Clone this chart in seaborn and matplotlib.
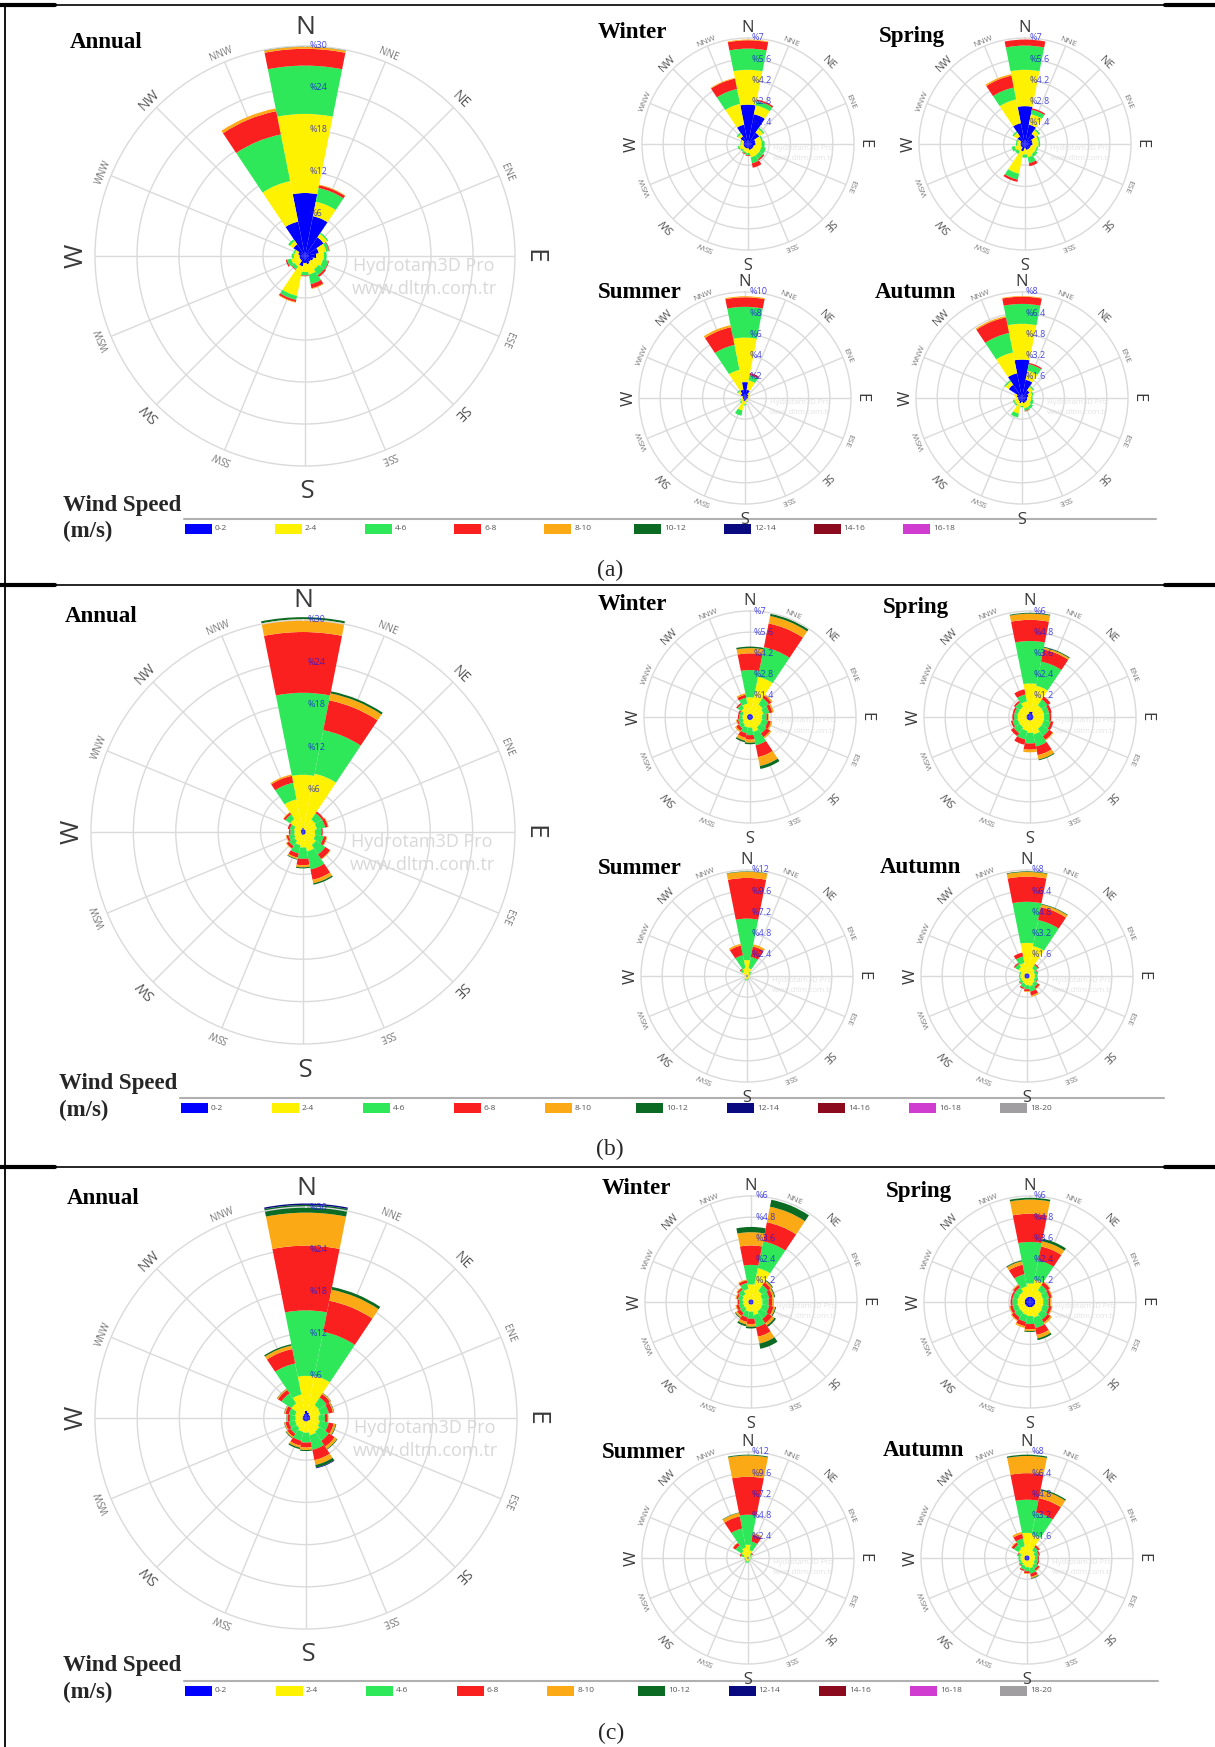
import numpy as np
import matplotlib
matplotlib.use("Agg")
import matplotlib.pyplot as plt
import seaborn as sns
from matplotlib.transforms import ScaledTranslation
from matplotlib.patches import Rectangle

# ---------------- data ----------------
DIRS = ['N', 'NNE', 'NE', 'ENE', 'E', 'ESE', 'SE', 'SSE',
        'S', 'SSW', 'SW', 'WSW', 'W', 'WNW', 'NW', 'NNW']
SPEED_BINS = ['0-2', '2-4', '4-6', '6-8', '8-10', '10-12', '12-14', '14-16', '16-18', '18-20']
SPEED_HEX = ['#0000FF', '#FFF200', '#2EE85A', '#FA2020', '#FBA914',
             '#0B6B23', '#0A0A80', '#8B0A1E', '#D03CD0', '#A09EA0']

# each row: one direction (N, NNE, ... NNW); columns: % share per speed bin
annual_a = [[9.0, 11.3, 6.9, 2.4, 0.3, 0.1], [5.8, 2.1, 2.0, 0.4, 0.1], [3.2, 0.6, 0.2],
            [2.0, 1.1, 0.4, 0.1], [1.6, 1.1, 0.4], [1.2, 1.4, 0.8, 0.1], [1.0, 1.3, 1.0, 0.3],
            [1.2, 1.5, 1.4, 0.6, 0.1], [1.0, 1.3, 0.5, 0.1], [1.5, 4.3, 0.6, 0.3, 0.1],
            [0.8, 1.0, 0.5, 0.1], [0.8, 1.2, 0.6, 0.2], [0.8, 0.8, 0.3], [1.0, 0.5, 0.2],
            [2.0, 0.6, 0.3], [5.0, 5.9, 6.8, 3.4, 0.4]]
winter_a = [[2.6, 2.3, 1.4, 0.55, 0.05], [2.0, 0.6, 0.3, 0.1], [0.9, 0.3, 0.1], [0.5, 0.4, 0.1],
            [0.5, 0.4, 0.2], [0.4, 0.5, 0.3], [0.4, 0.5, 0.3, 0.1], [0.4, 0.5, 0.4, 0.3],
            [0.3, 0.3, 0.15, 0.05], [0.3, 0.25, 0.1, 0.05], [0.3, 0.2, 0.1], [0.3, 0.3, 0.1],
            [0.3, 0.15, 0.05], [0.3, 0.15, 0.05], [0.6, 0.2, 0.1], [1.3, 1.4, 1.0, 0.7, 0.05]]
spring_a = [[2.5, 2.4, 1.6, 0.4], [1.3, 0.7, 0.3, 0.1], [0.8, 0.3, 0.1], [0.5, 0.4, 0.1],
            [0.5, 0.4, 0.1], [0.4, 0.4, 0.1], [0.4, 0.4, 0.2], [0.4, 0.5, 0.4, 0.2],
            [0.3, 0.4, 0.2], [0.5, 1.5, 0.4, 0.15], [0.3, 0.3, 0.2], [0.3, 0.4, 0.2],
            [0.3, 0.2, 0.1], [0.3, 0.2, 0.1], [0.6, 0.3, 0.1], [1.4, 1.6, 0.8, 0.8, 0.1]]
summer_a = [[1.5, 4.2, 2.9, 0.9, 0.1], [0.8, 0.9, 0.5, 0.2], [0.4, 0.2], [0.3, 0.1],
            [0.3, 0.1], [0.2, 0.1], [0.2, 0.1], [0.2, 0.15, 0.05],
            [0.3, 0.3, 0.1], [0.3, 0.9, 0.5], [0.2, 0.3, 0.1], [0.2, 0.2, 0.05],
            [0.2, 0.1], [0.2, 0.1], [0.5, 0.3, 0.1], [0.8, 1.9, 2.4, 1.7, 0.2]]
autumn_a = [[2.9, 2.7, 1.5, 0.55, 0.05], [1.4, 0.7, 0.5, 0.1], [0.7, 0.3, 0.1], [0.5, 0.3, 0.1],
            [0.4, 0.3, 0.1], [0.4, 0.3, 0.2], [0.4, 0.4, 0.2], [0.4, 0.4, 0.2, 0.05],
            [0.3, 0.3, 0.1], [0.4, 0.8, 0.3], [0.3, 0.3, 0.1], [0.3, 0.3, 0.1],
            [0.3, 0.2], [0.4, 0.2], [1.2, 0.3, 0.1], [1.9, 1.6, 1.5, 1.2, 0.1]]

annual_b = [[0.6, 7.5, 11.6, 8.6, 1.8, 0.3], [0.4, 8.0, 6.3, 4.3, 1.0, 0.3], [0.4, 1.7, 1.1, 0.3],
            [0.4, 1.6, 1.2, 0.4, 0.1], [0.4, 1.3, 0.9, 0.2], [0.4, 1.4, 1.2, 0.4, 0.1],
            [0.4, 1.8, 1.6, 0.8, 0.1], [0.4, 2.4, 2.6, 1.5, 0.5, 0.2], [0.4, 1.8, 1.6, 0.9, 0.3, 0.15],
            [0.4, 1.5, 1.2, 0.6, 0.2, 0.1], [0.3, 1.2, 0.9, 0.4, 0.1], [0.3, 1.0, 0.8, 0.3, 0.1],
            [0.3, 0.9, 0.6, 0.2], [0.3, 1.0, 0.6, 0.3], [0.4, 1.8, 0.8, 0.3, 0.1],
            [0.4, 4.3, 2.4, 1.0, 0.2]]
winter_b = [[0.2, 1.1, 1.8, 1.1, 0.35, 0.1], [0.2, 2.5, 2.0, 1.6, 0.5, 0.15], [0.2, 0.8, 0.5, 0.2, 0.1],
            [0.2, 0.7, 0.4, 0.2, 0.1], [0.2, 0.6, 0.3, 0.1, 0.05], [0.2, 0.6, 0.4, 0.2, 0.1],
            [0.2, 0.6, 0.5, 0.3, 0.1], [0.2, 0.8, 0.9, 0.8, 0.6, 0.2], [0.2, 0.5, 0.5, 0.3, 0.2, 0.1],
            [0.2, 0.5, 0.4, 0.3, 0.2, 0.1], [0.2, 0.4, 0.3, 0.2, 0.1], [0.2, 0.3, 0.3, 0.1, 0.05],
            [0.2, 0.3, 0.2, 0.1], [0.2, 0.3, 0.2, 0.1], [0.2, 0.5, 0.3, 0.1], [0.2, 0.7, 0.4, 0.2, 0.1]]
spring_b = [[0.3, 1.6, 2.4, 1.2, 0.35, 0.05], [0.3, 1.5, 1.4, 0.7, 0.1, 0.05], [0.2, 0.6, 0.4, 0.2],
            [0.2, 0.6, 0.3, 0.15], [0.2, 0.6, 0.3, 0.1], [0.2, 0.6, 0.4, 0.15],
            [0.2, 0.6, 0.5, 0.25, 0.05], [0.2, 0.8, 0.7, 0.5, 0.25, 0.05], [0.2, 0.7, 0.6, 0.35, 0.15],
            [0.2, 0.6, 0.5, 0.3], [0.2, 0.5, 0.4, 0.2], [0.2, 0.5, 0.3, 0.1],
            [0.2, 0.5, 0.2, 0.1], [0.2, 0.5, 0.2, 0.1], [0.2, 0.5, 0.3, 0.1], [0.2, 0.7, 0.4, 0.3]]
summer_b = [[0.1, 1.7, 4.7, 4.6, 0.7, 0.05], [0.1, 0.8, 1.3, 1.2, 0.25], [0.1, 0.3, 0.2], [0.1, 0.2, 0.1],
            [0.1, 0.2], [0.1, 0.15], [0.1, 0.15], [0.1, 0.2, 0.1],
            [0.1, 0.3, 0.1], [0.1, 0.3, 0.1], [0.1, 0.2], [0.1, 0.15],
            [0.1, 0.15], [0.1, 0.2], [0.1, 0.5, 0.3, 0.1], [0.1, 0.8, 1.5, 1.1, 0.2]]
autumn_b = [[0.2, 2.3, 3.1, 1.9, 0.35, 0.05], [0.2, 2.1, 2.0, 1.0, 0.2, 0.05], [0.2, 0.5, 0.3, 0.1],
            [0.2, 0.4, 0.2, 0.05], [0.2, 0.4, 0.2], [0.2, 0.4, 0.2, 0.05],
            [0.2, 0.5, 0.3, 0.15, 0.05], [0.2, 0.6, 0.4, 0.3, 0.1], [0.2, 0.5, 0.3, 0.15, 0.05],
            [0.2, 0.4, 0.3, 0.1], [0.2, 0.3, 0.2, 0.05], [0.2, 0.3, 0.1],
            [0.2, 0.3, 0.1], [0.2, 0.3, 0.1], [0.2, 0.6, 0.3, 0.1], [0.2, 0.8, 0.5, 0.3]]

annual_c = [[1.0, 5.0, 9.3, 9.2, 4.7, 1.1, 0.2], [0.8, 5.3, 6.4, 4.5, 1.6, 0.4],
            [0.6, 1.6, 1.3, 0.6, 0.15, 0.05], [0.6, 1.5, 1.2, 0.6, 0.15, 0.05],
            [0.6, 1.2, 0.9, 0.4, 0.1], [0.6, 1.4, 1.3, 0.7, 0.3, 0.1],
            [0.5, 1.8, 1.6, 1.0, 0.4, 0.1], [0.5, 2.0, 2.1, 1.5, 0.7, 0.4, 0.1],
            [0.5, 1.6, 1.4, 0.7, 0.35, 0.15], [0.5, 1.5, 1.3, 0.7, 0.3, 0.2],
            [0.5, 1.2, 1.0, 0.5, 0.2, 0.1], [0.5, 1.1, 0.9, 0.5, 0.15, 0.05],
            [0.5, 1.0, 0.8, 0.35, 0.1, 0.05], [0.5, 1.1, 0.9, 0.5, 0.15, 0.05],
            [0.5, 2.0, 1.7, 0.6, 0.15, 0.05], [0.6, 2.8, 4.5, 2.1, 0.5, 0.2]]
winter_c = [[0.15, 0.85, 1.1, 1.1, 0.75, 0.3], [0.15, 1.8, 1.55, 1.1, 0.9, 0.4],
            [0.15, 0.6, 0.4, 0.2, 0.1, 0.05], [0.15, 0.5, 0.4, 0.2, 0.1, 0.05],
            [0.15, 0.5, 0.35, 0.2, 0.1], [0.15, 0.5, 0.4, 0.25, 0.1, 0.05],
            [0.15, 0.5, 0.5, 0.3, 0.15, 0.1], [0.15, 0.6, 0.7, 0.55, 0.4, 0.3],
            [0.15, 0.4, 0.4, 0.3, 0.15, 0.1], [0.15, 0.4, 0.35, 0.25, 0.15, 0.1],
            [0.15, 0.3, 0.3, 0.2, 0.1, 0.05], [0.15, 0.3, 0.25, 0.15, 0.05],
            [0.15, 0.3, 0.2, 0.1, 0.05], [0.15, 0.35, 0.25, 0.1, 0.05],
            [0.15, 0.4, 0.3, 0.1, 0.05], [0.15, 0.6, 0.35, 0.15, 0.05]]
spring_c = [[0.3, 0.75, 2.35, 1.6, 0.8, 0.1], [0.3, 1.0, 1.1, 0.8, 0.3, 0.15],
            [0.3, 0.5, 0.35, 0.2, 0.05], [0.3, 0.45, 0.35, 0.15, 0.05],
            [0.3, 0.45, 0.3, 0.1, 0.05], [0.3, 0.45, 0.35, 0.15, 0.05],
            [0.3, 0.5, 0.4, 0.2, 0.1], [0.3, 0.6, 0.6, 0.4, 0.2, 0.1],
            [0.3, 0.5, 0.45, 0.3, 0.1, 0.05], [0.3, 0.45, 0.4, 0.25, 0.1],
            [0.3, 0.4, 0.35, 0.2, 0.05], [0.3, 0.4, 0.3, 0.15, 0.05],
            [0.3, 0.4, 0.3, 0.1], [0.3, 0.4, 0.3, 0.1],
            [0.3, 0.4, 0.3, 0.15, 0.05], [0.3, 0.6, 0.7, 0.55, 0.2, 0.05]]
summer_c = [[0.1, 1.4, 3.4, 4.3, 2.4, 0.1], [0.1, 0.8, 1.0, 0.8, 0.2], [0.1, 0.3, 0.2, 0.1],
            [0.1, 0.2, 0.1], [0.1, 0.2, 0.1], [0.1, 0.15, 0.05], [0.1, 0.15, 0.05],
            [0.1, 0.2, 0.1], [0.1, 0.3, 0.15], [0.1, 0.3, 0.15], [0.1, 0.2, 0.1],
            [0.1, 0.2, 0.1], [0.1, 0.2, 0.1], [0.1, 0.4, 0.3, 0.15],
            [0.1, 0.8, 0.8, 0.35, 0.05], [0.1, 1.1, 2.2, 1.4, 0.4, 0.05]]
autumn_c = [[0.2, 1.7, 2.5, 2.0, 1.3, 0.1], [0.2, 1.6, 1.7, 1.1, 0.6, 0.1],
            [0.2, 0.5, 0.3, 0.15, 0.05], [0.2, 0.4, 0.3, 0.1], [0.2, 0.4, 0.2, 0.1],
            [0.2, 0.4, 0.25, 0.1], [0.2, 0.5, 0.3, 0.15, 0.05], [0.2, 0.6, 0.4, 0.25, 0.1, 0.05],
            [0.2, 0.5, 0.3, 0.15, 0.05], [0.2, 0.4, 0.3, 0.1], [0.2, 0.3, 0.2, 0.05],
            [0.2, 0.3, 0.15], [0.2, 0.3, 0.15], [0.2, 0.3, 0.2, 0.05],
            [0.2, 0.6, 0.4, 0.2, 0.05], [0.2, 0.7, 0.6, 0.35, 0.15]]

rings_annual = [6, 12, 18, 24, 30]
rings_14 = [1.4, 2.8, 4.2, 5.6, 7]
rings_12 = [1.2, 2.4, 3.6, 4.8, 6]
rings_2 = [2, 4, 6, 8, 10]
rings_16 = [1.6, 3.2, 4.8, 6.4, 8]
rings_24 = [2.4, 4.8, 7.2, 9.6, 12]

# ---------------- style ----------------
W, H = 1215, 1747
sns.set_style("white")
palette = sns.color_palette(SPEED_HEX)
plt.rcParams['font.family'] = ['DejaVu Sans']
SERIF = ['Liberation Serif', 'DejaVu Serif']
SANS = ['Open Sans', 'DejaVu Sans']
GRID = '#DADADA'

fig = plt.figure(figsize=(W / 100, H / 100), dpi=100)
bg = fig.add_axes([0, 0, 1, 1])
bg.set_xlim(0, W)
bg.set_ylim(H, 0)
bg.axis('off')

theta = np.deg2rad(np.arange(16) * 22.5)


def add_rose(cx, cy, R, table, rings, big):
    ax = fig.add_axes([(cx - R) / W, 1 - (cy + R) / H, 2 * R / W, 2 * R / H], projection='polar')
    ax.set_theta_zero_location('N')
    ax.set_theta_direction(-1)
    ax.set_facecolor('none')
    rmax = rings[-1]
    nb = max(len(r) for r in table)
    data = np.zeros((16, nb))
    for i, row in enumerate(table):
        data[i, :len(row)] = row
    bottom = np.zeros(16)
    for b in range(nb):
        ax.bar(theta, data[:, b], width=2 * np.pi / 16, bottom=bottom, color=palette[b],
               linewidth=0, clip_on=False, zorder=2)
        bottom += data[:, b]
    ax.set_ylim(0, rmax)
    ax.set_xticks(theta)
    ax.set_xticklabels([])
    ax.set_yticks(rings[:-1])
    ax.set_yticklabels([])
    ax.set_axisbelow(True)
    ax.grid(True, color=GRID, lw=1.0)
    ax.spines['polar'].set_color(GRID)
    ax.spines['polar'].set_linewidth(1.0)
    # direction labels
    for i, d in enumerate(DIRS):
        if len(d) == 1:
            fs, fac, col = (19, 1.09, '#3a3a3a') if big else (12, 1.095, '#3a3a3a')
        elif len(d) == 2:
            fs, fac, col = (10, 1.05, '#555555') if big else (8, 1.075, '#555555')
        else:
            fs, fac, col = (7, 1.04, '#777777') if big else (6, 1.045, '#777777')
        ax.text(theta[i], rmax * fac, d, rotation=-i * 22.5, rotation_mode='anchor',
                ha='center', va='center', fontsize=fs, color=col, family=SANS, clip_on=False)
    # radial labels
    off = ax.transData + ScaledTranslation(4 / 100, 0, fig.dpi_scale_trans)
    for v in rings:
        ax.text(0, v, '%' + f'{v:g}', transform=off, ha='left', va='center',
                fontsize=6.5, color='#1a1ae0', alpha=0.8, family=SANS, zorder=5, clip_on=False)
    # watermark
    if big:
        bg.text(cx + 119, cy + 10, 'Hydrotam3D Pro', ha='center', va='center', fontsize=13,
                color='#D8D8D8', family=SANS)
        bg.text(cx + 119, cy + 33, 'www.dltm.com.tr', ha='center', va='center', fontsize=13,
                color='#D8D8D8', family=SANS)
    else:
        bg.text(cx + 55, cy + 4, 'Hydrotam3D Pro', ha='center', va='center', fontsize=5.5,
                color='#E4E4E4', family=SANS)
        bg.text(cx + 55, cy + 14, 'www.dltm.com.tr', ha='center', va='center', fontsize=5.5,
                color='#E4E4E4', family=SANS)
    return ax


def title(x, y, s, fs=16.5):
    bg.text(x, y, s, ha='left', va='center', fontsize=fs, fontweight='bold', family=SERIF, color='black')


def legend(x0, step, y_line, x_line_end, n, y_title):
    bg.plot([x0 - 1, x_line_end], [y_line, y_line], color='#B0B0B0', lw=1.5)
    for k in range(n):
        x = x0 + k * step
        bg.add_patch(Rectangle((x, y_line + 5), 27, 10, facecolor=palette[k], edgecolor='none'))
        bg.text(x + 30, y_line + 10, SPEED_BINS[k], ha='left', va='center', fontsize=6,
                color='#555555', family=SANS)
    bg.text(x0 - 122, y_title, 'Wind Speed', ha='left', va='center', fontsize=16.5,
            fontweight='bold', family=SERIF)
    bg.text(x0 - 122, y_title + 26, '(m/s)', ha='left', va='center', fontsize=16.5,
            fontweight='bold', family=SERIF)


# ---------------- panel (a) ----------------
add_rose(305, 256, 210, annual_a, rings_annual, True)
add_rose(748, 144, 106, winter_a, rings_14, False)
add_rose(1025, 144, 106, spring_a, rings_14, False)
add_rose(745, 398, 106, summer_a, rings_2, False)
add_rose(1022, 398, 106, autumn_a, rings_16, False)
title(70, 42, 'Annual')
title(598, 32, 'Winter')
title(879, 36, 'Spring')
title(598, 292, 'Summer')
title(875, 292, 'Autumn')
legend(185, 89.8, 519, 1156, 9, 505)
bg.text(610, 570, '(a)', ha='center', va='center', fontsize=17, family=SERIF)

# ---------------- panel (b) ----------------
add_rose(303, 832, 212, annual_b, rings_annual, True)
add_rose(750, 717, 106, winter_b, rings_14, False)
add_rose(1030, 717, 106, spring_b, rings_12, False)
add_rose(747, 976, 106, summer_b, rings_24, False)
add_rose(1027, 976, 106, autumn_b, rings_16, False)
title(65, 616, 'Annual')
title(598, 605, 'Winter')
title(883, 608, 'Spring')
title(598, 868, 'Summer')
title(880, 867, 'Autumn')
legend(181, 91, 1098, 1164, 10, 1084)
bg.text(610, 1149, '(b)', ha='center', va='center', fontsize=17, family=SERIF)

# ---------------- panel (c) ----------------
add_rose(306, 1418, 211, annual_c, rings_annual, True)
add_rose(751, 1302, 106, winter_c, rings_12, False)
add_rose(1030, 1302, 106, spring_c, rings_12, False)
add_rose(748, 1558, 106, summer_c, rings_24, False)
add_rose(1027, 1558, 106, autumn_c, rings_16, False)
title(67, 1198, 'Annual')
title(602, 1188, 'Winter')
title(886, 1191, 'Spring')
title(602, 1452, 'Summer')
title(883, 1451, 'Autumn')
legend(185, 90.6, 1681, 1158, 10, 1666)
bg.text(611, 1733, '(c)', ha='center', va='center', fontsize=17, family=SERIF)

# ---------------- table borders ----------------
bg.plot([5, 5], [4, H], color='black', lw=1.3)
for yy in [4.5, 585, 1167]:
    bg.plot([5, W], [yy, yy], color='black', lw=1.2)
    bg.plot([0, 55], [yy, yy], color='black', lw=3)
    bg.plot([1165, W], [yy, yy], color='black', lw=3)

fig.savefig('out.png', dpi=100)
